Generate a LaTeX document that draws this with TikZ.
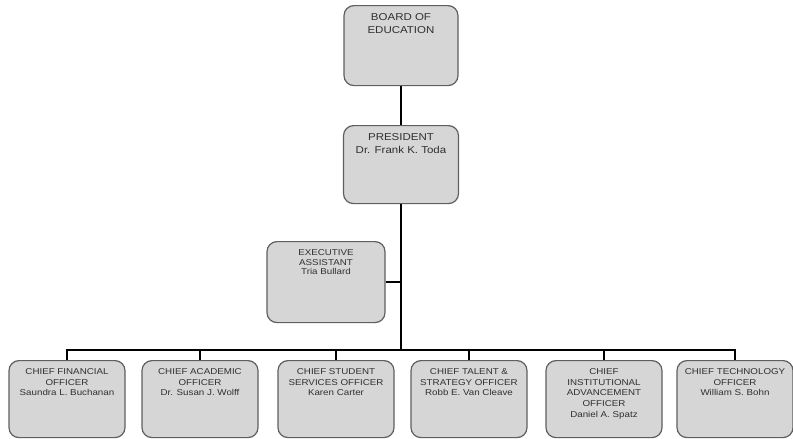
\documentclass[tikz,border=0pt]{standalone}
\usepackage{fontspec}
\newfontfamily\orgfont[FakeStretch=1.15]{Liberation Sans}
\definecolor{cd6d6d6}{RGB}{214,214,214}
\definecolor{c5f5f5f}{RGB}{95,95,95}
\definecolor{c303030}{RGB}{48,48,48}
\newcommand{\orgtext}[3]{\parbox[t][#1][t]{#2}{\centering #3}}
\tikzset{link/.style={draw,line width=1.6pt,color=black}}

\begin{document}
\begin{tikzpicture}[x=1pt,y=-1pt]
\useasboundingbox (0,0) rectangle (793,439);
\begin{scope}[every node/.style={draw=c5f5f5f,fill=cd6d6d6,line width=1.2pt,rounded corners=10pt,
anchor=north,inner xsep=2pt,inner ysep=8pt,text=c303030,font=\orgfont\fontsize{10}{13}\selectfont}]
\node (board) at (401,5) {\orgtext{64pt}{110pt}{BOARD OF\\EDUCATION}};
\node (pres) at (401,125) {\orgtext{62pt}{111pt}{PRESIDENT\\Dr. Frank K. Toda}};
\node[font=\orgfont\fontsize{8.5}{9.5}\selectfont] (exec) at (326,241) {\orgtext{65pt}{114pt}{EXECUTIVE\\ASSISTANT\\Tria Bullard}};
\end{scope}

\begin{scope}[every node/.style={draw=c5f5f5f,fill=cd6d6d6,line width=1.2pt,rounded corners=10pt,
anchor=north,inner xsep=2pt,inner ysep=8pt,text=c303030,font=\orgfont\fontsize{8.5}{10.7}\selectfont}]
\node (cfo) at (67,360) {\orgtext{61pt}{112pt}{CHIEF FINANCIAL\\OFFICER\\Saundra L. Buchanan}};
\node (cao) at (200,360) {\orgtext{61pt}{112pt}{CHIEF ACADEMIC\\OFFICER\\Dr. Susan J. Wolff}};
\node (csso) at (336,360) {\orgtext{61pt}{112pt}{CHIEF STUDENT\\SERVICES OFFICER\\Karen Carter}};
\node (ctso) at (469,360) {\orgtext{61pt}{112pt}{CHIEF TALENT \&\\STRATEGY OFFICER\\Robb E. Van Cleave}};
\node (ciao) at (604,360) {\orgtext{61pt}{112pt}{CHIEF\\INSTITUTIONAL\\ADVANCEMENT\\OFFICER\\Daniel A. Spatz}};
\node (cto) at (735,360) {\orgtext{61pt}{112pt}{CHIEF TECHNOLOGY\\OFFICER\\William S. Bohn}};
\end{scope}

\coordinate (bus) at (401,350);
\path[link] (board) -- (pres);
\path[link] (pres) -- (bus);
\path[link] (exec.east) -- (exec.east -| pres);
\foreach \n in {cfo,cao,csso,ctso,ciao,cto}
  \path[link] (bus) -| (\n.north);

\end{tikzpicture}
\end{document}
